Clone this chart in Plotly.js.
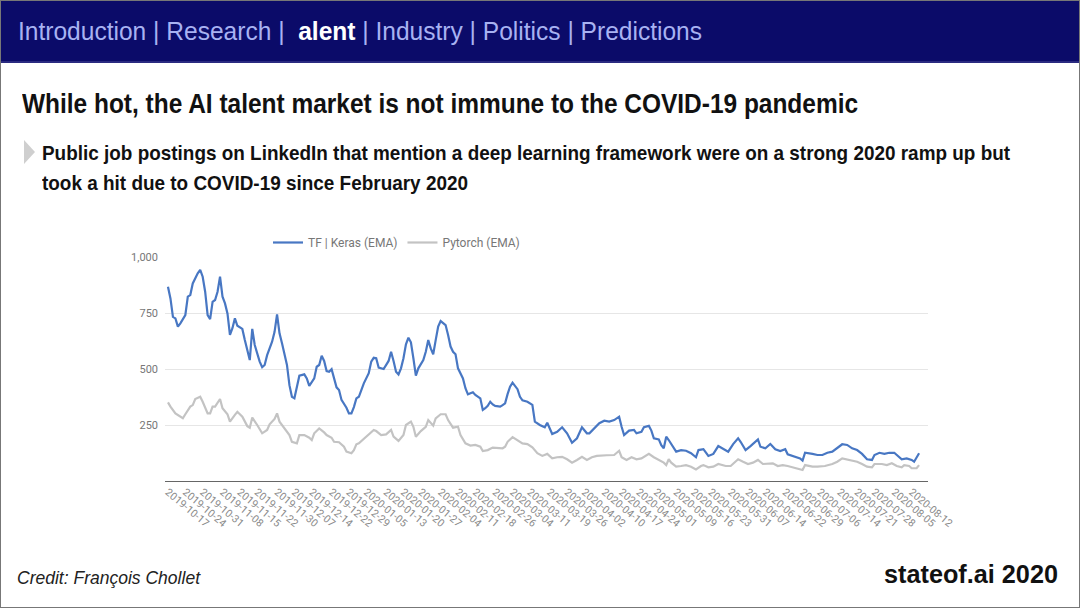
<!DOCTYPE html>
<html>
<head>
<meta charset="utf-8">
<script src="https://cdn.plot.ly/plotly-3.0.1.min.js"></script>
<style>
  html, body { margin:0; padding:0; }
  body { width:1080px; height:608px; position:relative; overflow:hidden; background:#fff;
         font-family:'Liberation Sans','Arimo',sans-serif; }
  #chart { position:absolute; left:0; top:0; width:1080px; height:608px; }
  .abs { position:absolute; white-space:nowrap; transform-origin:0 0; }
  #hdr { position:absolute; left:0; top:0; width:1080px; height:61px; background:#0b0b69; border-bottom:2px solid #2a2a80; }
  #nav { left:18px; top:16px; font-size:26px; line-height:30px; color:#a8b2f2; }
  #nav b { color:#fff; }
  #title { left:22px; top:88px; font-size:27.5px; line-height:32px; font-weight:bold; color:#111; }
  #tri { left:24px; top:140px; width:0; height:0; border-top:12px solid transparent; border-bottom:12px solid transparent; border-left:11px solid #cfcfcf; }
  .sub { left:42px; font-size:21px; line-height:30px; font-weight:bold; color:#111; }
  #sub1 { top:138px; }
  #sub2 { top:168px; }
  #credit { left:17px; top:566px; font-size:19px; line-height:24px; font-style:italic; color:#222; }
  #brand { left:884px; top:559px; font-size:26px; line-height:30px; font-weight:bold; color:#111; }
  #frame { position:absolute; left:0; top:0; width:1078px; height:606px; border:1px solid #777; pointer-events:none; }
</style>
</head>
<body>
<div id="chart"></div>
<div id="hdr"></div>
<div id="nav" class="abs" data-w="684">Introduction | Research | &nbsp;<b>alent</b> | Industry | Politics | Predictions</div>
<div id="title" class="abs" data-w="836">While hot, the AI talent market is not immune to the COVID-19 pandemic</div>
<div id="tri" class="abs"></div>
<div id="sub1" class="abs sub" data-w="968">Public job postings on LinkedIn that mention a deep learning framework were on a strong 2020 ramp up but</div>
<div id="sub2" class="abs sub" data-w="426">took a hit due to COVID-19 since February 2020</div>
<div id="credit" class="abs" data-w="183">Credit: François Chollet</div>
<div id="brand" class="abs" data-w="174">stateof.ai 2020</div>
<div id="frame"></div>
<script>
// fit condensed-looking slide texts to the reference widths
document.querySelectorAll('[data-w]').forEach(function (el) {
  const w = el.getBoundingClientRect().width;
  const target = parseFloat(el.getAttribute('data-w'));
  if (w > 0) el.style.transform = 'scaleX(' + (target / w).toFixed(4) + ')';
});

// Day offsets are days since the first posting date (2019-10-17)
const startDate = '2019-10-17';

const tfDays = [0,1,2,3,4,5,7,8,9,10,12,13,14,15,16,17,18,19,20,21,22,23,24,25,26,27,28,30,31,32,33,34,35,37,38,39,40,42,43,44,45,46,48,49,50,51,52,53,55,56,57,59,60,61,62,63,64,65,66,67,68,69,70,72,73,74,75,76,77,78,79,81,82,83,84,85,86,87,89,90,91,92,93,94,95,96,97,98,99,100,101,103,104,105,106,107,108,109,110,112,113,114,115,116,117,119,120,121,123,124,126,127,128,129,130,131,132,134,135,136,137,138,139,141,142,143,145,147,148,150,152,153,155,157,159,161,163,165,167,169,170,172,174,176,178,180,182,183,184,186,188,189,191,192,194,195,196,198,199,200,201,202,204,205,207,209,211,213,214,216,218,220,222,224,226,228,230,231,233,235,238,239,241,243,245,247,249,250,253,255,256,257,260,262,264,266,268,270,272,274,276,278,280,282,284,285,287,289,291,293,295,296,298,300,301,303];
const tfValues = [867,815,733,726,689,704,741,823,830,882,927,942,912,845,741,723,800,808,845,912,823,793,748,652,682,726,693,679,629,585,540,679,607,533,508,518,562,622,666,744,659,615,518,428,376,369,414,470,476,458,425,458,510,518,559,536,491,488,499,458,418,406,362,327,302,302,330,369,376,406,436,481,533,550,548,506,503,500,536,577,536,488,476,503,548,610,640,619,548,470,503,540,577,629,592,566,629,689,714,696,652,600,577,566,503,458,414,387,396,384,369,317,325,336,354,342,335,332,339,347,388,421,439,410,376,360,354,340,265,250,240,260,210,220,240,213,171,191,240,213,213,235,258,269,265,272,287,242,205,225,228,213,220,240,246,225,191,186,160,146,198,183,146,131,138,135,124,106,138,142,112,121,156,142,131,165,191,175,138,156,186,153,146,165,142,134,142,119,108,101,91,126,121,116,116,126,131,146,164,161,146,138,121,97,94,116,126,121,126,126,108,97,101,94,86,124];

const ptDays = [0,1,3,4,6,7,9,10,11,13,14,16,17,18,19,21,22,24,25,27,28,30,31,32,33,34,36,38,40,41,43,44,45,47,49,50,52,53,55,57,58,59,61,63,64,66,67,69,71,72,74,75,76,77,79,81,83,84,86,88,90,91,93,95,96,98,99,100,102,104,105,107,108,110,112,113,115,117,118,120,122,124,126,127,129,131,133,135,136,137,139,141,143,145,147,149,151,153,155,157,159,161,163,165,167,169,171,173,175,177,180,182,183,185,187,189,191,194,196,198,200,201,202,203,205,207,209,211,213,215,216,218,220,222,225,227,229,230,232,234,236,238,240,242,244,246,248,250,252,254,256,257,260,262,265,268,270,272,274,276,278,280,282,284,285,288,290,292,294,296,297,299,300,302,303];
const ptValues = [351,332,302,295,280,298,332,339,366,376,354,302,302,332,332,366,325,298,265,295,309,287,268,245,238,283,250,213,228,253,277,302,265,235,205,175,168,205,205,193,183,213,235,217,205,193,175,173,153,131,124,138,164,168,188,205,228,223,205,208,228,198,179,205,250,265,242,198,223,242,272,247,280,298,298,272,238,242,205,168,158,161,153,134,138,149,146,146,153,175,196,183,168,165,150,124,112,121,101,106,108,97,82,94,108,94,106,112,112,115,116,135,106,94,106,97,101,121,106,94,82,71,97,82,64,67,71,64,52,67,71,61,64,76,67,67,86,97,86,76,82,94,76,76,79,67,71,67,61,57,49,71,64,64,67,76,86,101,97,91,86,76,64,61,76,76,71,79,67,61,71,67,57,57,71];

const tickDates = ['2019-10-17','2019-10-24','2019-10-31','2019-11-08','2019-11-15','2019-11-22','2019-11-30','2019-12-07','2019-12-14','2019-12-22','2019-12-29','2020-01-05','2020-01-13','2020-01-20','2020-01-27','2020-02-04','2020-02-11','2020-02-18','2020-02-26','2020-03-04','2020-03-11','2020-03-19','2020-03-26','2020-04-02','2020-04-10','2020-04-17','2020-04-24','2020-05-01','2020-05-09','2020-05-16','2020-05-23','2020-05-31','2020-06-07','2020-06-14','2020-06-22','2020-06-29','2020-07-06','2020-07-14','2020-07-21','2020-07-28','2020-08-05','2020-08-12'];

const yTickVals = [250, 500, 750, 1000];
const yTickText = ['250', '500', '750', '1,000'];

const seriesNames = ['TF | Keras (EMA)', 'Pytorch (EMA)'];
const seriesColors = ['#4877c3', '#c3c3c3'];

function dayToDate(d) {
  const base = Date.parse(startDate + 'T00:00:00Z');
  const s = new Date(base + d * 86400000).toISOString();
  return s.slice(0, 10) + ' ' + s.slice(11, 19);
}

const traces = [
  { x: ptDays.map(dayToDate), y: ptValues, name: seriesNames[1], type: 'scatter', mode: 'lines',
    line: { color: seriesColors[1], width: 2.2 } },
  { x: tfDays.map(dayToDate), y: tfValues, name: seriesNames[0], type: 'scatter', mode: 'lines',
    line: { color: seriesColors[0], width: 2.2 } }
];

const layout = {
  width: 1080, height: 608,
  margin: { l: 165, r: 152, t: 257, b: 127, pad: 0 },
  paper_bgcolor: 'rgba(0,0,0,0)', plot_bgcolor: 'rgba(0,0,0,0)',
  font: { family: 'Roboto, Arial, sans-serif', color: '#777' },
  showlegend: true,
  legend: { orientation: 'h', x: 0.135, xanchor: 'left', y: 1.0, yanchor: 'bottom',
            font: { size: 12, color: '#777' }, traceorder: 'reversed', itemwidth: 30 },
  xaxis: { type: 'date', range: [dayToDate(-1.2), dayToDate(306.6)],
           tickvals: tickDates, ticktext: tickDates, tickangle: 40,
           tickfont: { size: 10.5, color: '#8a8a8a' }, showgrid: false, zeroline: false,
           showline: true, linecolor: '#666', linewidth: 1, ticks: '' },
  yaxis: { range: [0, 1000], tickvals: yTickVals, ticktext: yTickText,
           tickfont: { size: 11, color: '#777' }, showgrid: true, gridcolor: '#e6e6e6',
           zeroline: false, showline: false, ticks: '', ticklabelstandoff: 6 },
};

Plotly.newPlot('chart', traces, layout, { displayModeBar: false, staticPlot: true });
</script>
</body>
</html>
